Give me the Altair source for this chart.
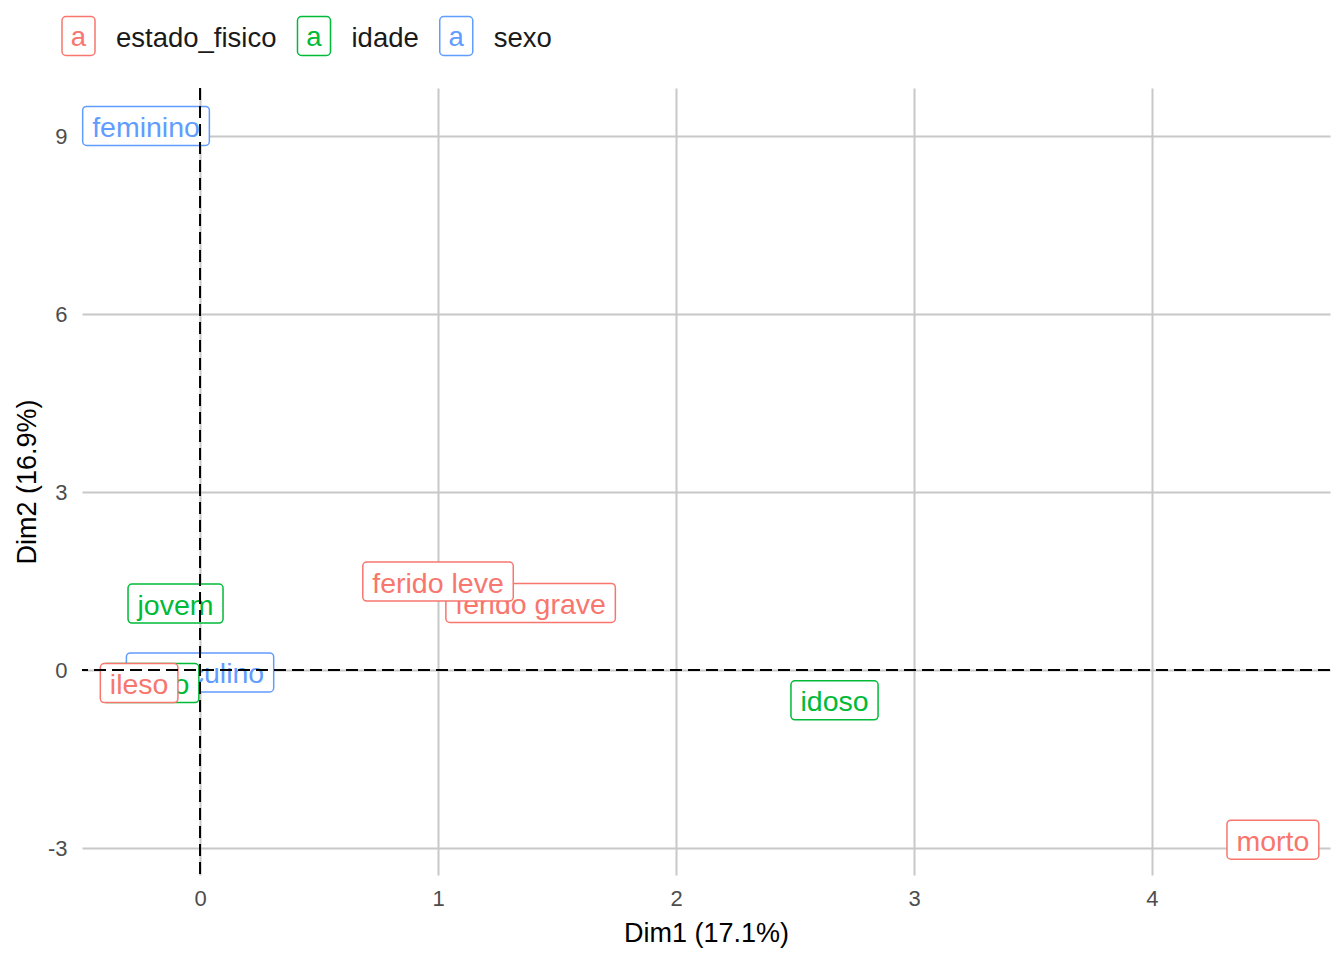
import altair as alt
import pandas as pd

# ---- data ----
labels = ["feminino", "masculino", "adulto", "idoso", "jovem",
          "ferido grave", "ferido leve", "ileso", "morto"]
groups = ["sexo", "sexo", "idade", "idade", "idade",
          "estado_fisico", "estado_fisico", "estado_fisico", "estado_fisico"]
dim1 = [-0.227, 0.0, -0.208, 2.666, -0.103, 1.389, 1.0, -0.256, 4.508]
dim2 = [9.17, -0.04, -0.22, -0.51, 1.12, 1.13, 1.49, -0.22, -2.86]

legend_groups = ["estado_fisico", "idade", "sexo"]
legend_colors = ["#F8766D", "#00BA38", "#619CFF"]

x_ticks = [0, 1, 2, 3, 4]
y_ticks = [-3, 0, 3, 6, 9]

# ---- styling helpers ----
FONT = "Liberation Sans, Arial"
W_EM = {'a': 556, 'b': 556, 'c': 500, 'd': 556, 'e': 556, 'f': 278, 'g': 556,
        'h': 556, 'i': 222, 'j': 222, 'k': 500, 'l': 222, 'm': 833, 'n': 556,
        'o': 556, 'p': 556, 'q': 556, 'r': 333, 's': 500, 't': 278, 'u': 556,
        'v': 500, 'w': 722, 'x': 500, 'y': 500, 'z': 500, ' ': 278, '_': 556}


def text_w(s, fs):
    return sum(W_EM.get(c, 556) for c in s) / 1000.0 * fs


def rrect(w, h, r=4.0):
    x0, x1, y0, y1 = -w / 2, w / 2, -h / 2, h / 2
    return (f"M{x0 + r},{y0}H{x1 - r}A{r},{r} 0 0 1 {x1},{y0 + r}"
            f"V{y1 - r}A{r},{r} 0 0 1 {x1 - r},{y1}H{x0 + r}"
            f"A{r},{r} 0 0 1 {x0},{y1 - r}V{y0 + r}A{r},{r} 0 0 1 {x0 + r},{y0}Z")


LABEL_FS = 28.5
PAD = 9.5
BOX_H = 39

df = pd.DataFrame({"label": labels, "group": groups, "dim1": dim1, "dim2": dim2})
df["box"] = [rrect(text_w(l, LABEL_FS) + 2 * PAD, BOX_H) for l in labels]

PW, PH = 1248, 787
xs = alt.Scale(domain=[-0.496, 4.748], nice=False, zero=False)
ys = alt.Scale(domain=[-3.455, 9.81], nice=False, zero=False)
cs = alt.Scale(domain=legend_groups, range=legend_colors)

x_enc = alt.X("dim1:Q", scale=xs, title="Dim1 (17.1%)",
              axis=alt.Axis(values=x_ticks, grid=True, ticks=False, domain=False,
                            labelExpr="datum.value + ''",
                            labelFontSize=22, labelColor="#4D4D4D", labelFont=FONT,
                            labelPadding=13, titleFontSize=27, titleFont=FONT,
                            titleColor="black", titleFontWeight="normal",
                            titleX=PW / 2, titleY=58, titleBaseline="middle",
                            gridColor="#C8C8C8", gridWidth=2))
y_enc = alt.Y("dim2:Q", scale=ys, title="Dim2 (16.9%)",
              axis=alt.Axis(values=y_ticks, grid=True, ticks=False, domain=False,
                            labelExpr="datum.value + ''",
                            labelFontSize=22, labelColor="#4D4D4D", labelFont=FONT,
                            labelPadding=15, titleFontSize=27, titleFont=FONT,
                            titleColor="black", titleFontWeight="normal",
                            titleX=-55, titleY=PH / 2, titleAngle=-90,
                            titleAlign="center", titleBaseline="middle",
                            gridColor="#C8C8C8", gridWidth=2))

base = alt.Chart(df)

layers = []
for i, lab in enumerate(labels):
    sub = base.transform_filter(alt.datum.label == lab)
    enc_x = x_enc if i == 0 else alt.X("dim1:Q", scale=xs)
    enc_y = y_enc if i == 0 else alt.Y("dim2:Q", scale=ys)
    box = sub.mark_point(size=4, opacity=1, strokeWidth=1.5, fill="white",
                         fillOpacity=1).encode(
        x=enc_x, y=enc_y,
        shape=alt.Shape("box:N", scale=None, legend=None),
        stroke=alt.Stroke("group:N", scale=cs, legend=None),
    )
    txt = sub.mark_text(fontSize=LABEL_FS, font=FONT, baseline="middle",
                        align="center", dy=2).encode(
        x=alt.X("dim1:Q", scale=xs), y=alt.Y("dim2:Q", scale=ys),
        text="label:N",
        color=alt.Color("group:N", scale=cs, legend=None),
    )
    layers += [box, txt]

zero = pd.DataFrame({"v": [0]})
vline = alt.Chart(zero).mark_rule(color="black", strokeWidth=2, strokeDash=[12, 6]).encode(
    x=alt.X("v:Q", scale=xs))
hline = alt.Chart(zero).mark_rule(color="black", strokeWidth=2, strokeDash=[12, 6]).encode(
    y=alt.Y("v:Q", scale=ys))
layers += [vline, hline]

# ---- manual legend on top (pixel positions relative to the plot origin) ----
LEG_FS = 27.5
KEY_W, KEY_H = 33, 39
GAP = 21
leg_y = -52
cur = 62 - 82  # left edge of first key box relative to plot left
for g, col in zip(legend_groups, legend_colors):
    key_cx = cur + KEY_W / 2
    text_x = cur + KEY_W + GAP
    ldf = pd.DataFrame({"g": [g]})
    key = alt.Chart(ldf).mark_point(size=4, opacity=1, strokeWidth=1.5, fill="white",
                                    fillOpacity=1, stroke=col,
                                    shape=rrect(KEY_W, KEY_H)).encode(
        x=alt.value(key_cx), y=alt.value(leg_y))
    a_txt = alt.Chart(ldf).mark_text(fontSize=LEG_FS, font=FONT, color=col,
                                     baseline="middle", align="center", dy=2).encode(
        x=alt.value(key_cx), y=alt.value(leg_y), text=alt.value("a"))
    lab_txt = alt.Chart(ldf).mark_text(fontSize=LEG_FS, font=FONT, color="#1A1A1A",
                                       baseline="middle", align="left", dy=3).encode(
        x=alt.value(text_x), y=alt.value(leg_y), text="g:N")
    layers += [key, a_txt, lab_txt]
    cur = text_x + text_w(g, LEG_FS) + GAP

chart = alt.layer(*layers).properties(
    width=PW, height=PH,
    background="white",
    autosize=alt.AutoSizeParams(type="none"),
    padding={"left": 74, "top": 80, "right": 6, "bottom": 82},
).configure_view(strokeWidth=0, stroke="transparent")

chart.save("out.html", embed_options={"renderer": "svg", "actions": False})
